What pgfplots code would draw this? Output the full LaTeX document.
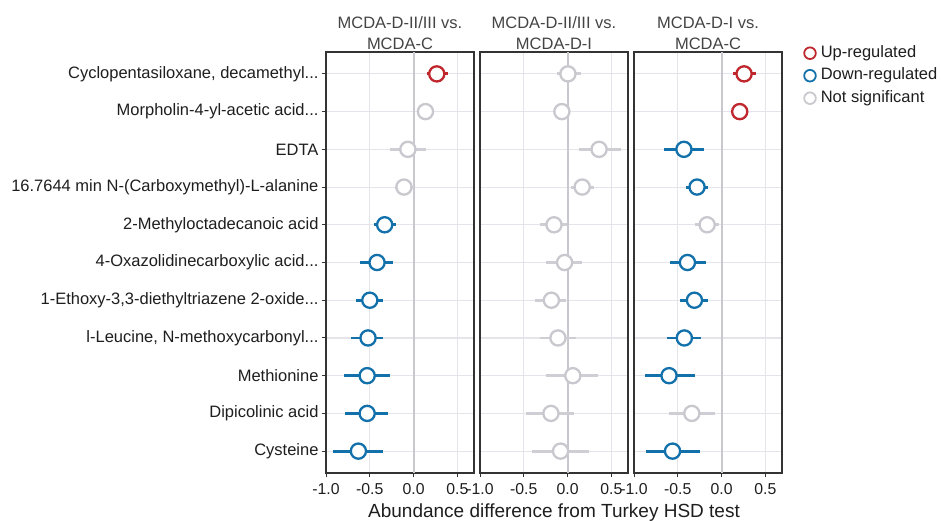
\documentclass[border=0pt]{standalone}
\usepackage{fontspec}
\setmainfont{Liberation Sans}
\usepackage{pgfplots}
\usepackage{pgfplotstable}
\pgfplotsset{compat=1.18}

\definecolor{upc}{RGB}{192,39,45}
\definecolor{downc}{RGB}{18,113,170}
\definecolor{nsc}{RGB}{200,200,206}
\definecolor{nsbar}{RGB}{206,206,212}
\definecolor{gridc}{RGB}{228,228,234}
\definecolor{zeroc}{RGB}{200,200,206}
\definecolor{axc}{RGB}{51,51,51}
\definecolor{tickc}{RGB}{30,30,30}
\definecolor{titc}{RGB}{68,68,68}

\newcommand\ticfont{\fontsize{16.5bp}{20.5bp}\selectfont}
\newcommand\xticfont{\fontsize{15.8bp}{19bp}\selectfont}
\newcommand\labfont{\fontsize{19bp}{22bp}\selectfont}
\newcommand\dd{.{}.{}.}

% Panel 1: MCDA-D-II/III vs MCDA-C   (row, estimate, lower, upper)
\pgfplotstableread{
row est lo hi
1 0.265 0.15 0.39
}\tabAu
\pgfplotstableread{
row est lo hi
2 0.136 0.12 0.15
3 -0.065 -0.27 0.14
4 -0.11 -0.216 0.004
}\tabAn
\pgfplotstableread{
row est lo hi
5 -0.33 -0.45 -0.20
6 -0.417 -0.61 -0.24
7 -0.50 -0.66 -0.35
8 -0.52 -0.71 -0.35
9 -0.53 -0.795 -0.27
10 -0.53 -0.78 -0.29
11 -0.63 -0.917 -0.35
}\tabAd

% Panel 2: MCDA-D-II/III vs MCDA-D-I
\pgfplotstableread{
row est lo hi
1 0.004 -0.12 0.15
2 -0.065 -0.08 -0.05
3 0.36 0.13 0.61
4 0.167 0.04 0.30
5 -0.155 -0.32 -0.01
6 -0.034 -0.25 0.17
7 -0.185 -0.375 -0.015
8 -0.11 -0.32 0.10
9 0.06 -0.25 0.35
10 -0.19 -0.48 0.07
11 -0.08 -0.405 0.25
}\tabBn

% Panel 3: MCDA-D-I vs MCDA-C
\pgfplotstableread{
row est lo hi
1 0.257 0.13 0.39
2 0.207 0.19 0.22
}\tabCu
\pgfplotstableread{
row est lo hi
5 -0.165 -0.30 -0.03
10 -0.34 -0.60 -0.07
}\tabCn
\pgfplotstableread{
row est lo hi
3 -0.43 -0.655 -0.20
4 -0.28 -0.41 -0.15
6 -0.39 -0.59 -0.18
7 -0.31 -0.48 -0.15
8 -0.425 -0.62 -0.23
9 -0.60 -0.88 -0.30
11 -0.56 -0.865 -0.25
}\tabCd

\pgfplotsset{
  series/.style 2 args={
    only marks, mark=*, mark size=7.6bp,
    mark options={fill=white, draw=#1, line width=2.3bp},
    forget plot,
    error bars/x dir=both, error bars/x explicit, error bars/error mark=none,
    error bars/error bar style={line width=2.9bp, draw=#2, solid}
  },
  panel/.style={
    scale only axis, width=148bp, height=421bp,
    xmin=-1.0, xmax=0.69, ymin=0.42, ymax=11.58, y dir=reverse,
    xtick={-1,-0.5,0,0.5}, ytick={1,2,3,4,5,6,7,8,9,10,11},
    xtick pos=bottom, ytick pos=left,
    xmajorgrids, ymajorgrids,
    major grid style={draw=gridc, line width=1.1bp},
    tick align=outside, major tick length=4bp,
    tick style={draw=axc, line width=1bp},
    axis line style={draw=axc, line width=1.2bp},
    xticklabel style={font=\xticfont, text=tickc, yshift=-3bp},
    yticklabel style={font=\ticfont, text=tickc},
    /pgf/number format/.cd, fixed, fixed zerofill, precision=1, assume math mode=true,
    /pgfplots/.cd,
    extra x ticks={0}, extra x tick labels={},
    extra x tick style={xmajorgrids=true, major grid style={draw=zeroc, line width=2bp}, major tick length=0pt},
    title style={align=center, font=\ticfont, text=titc, at={(0.5,1)}, anchor=south, yshift=-3.5bp, inner sep=0pt},
  },
  table/datatab/.style={x=est, y=row,
    x error plus expr=\thisrow{hi}-\thisrow{est},
    x error minus expr=\thisrow{est}-\thisrow{lo}},
}

\begin{document}
\begin{tikzpicture}
% Panel 1
\begin{axis}[panel, at={(326bp,469bp)}, anchor=north west,
  title={MCDA-D-II/III vs.\\MCDA-C},
  yticklabels={{Cyclopentasiloxane, decamethyl\dd},{Morpholin-4-yl-acetic acid\dd},{EDTA},{16.7644 min N-(Carboxymethyl)-L-alanine},{2-Methyloctadecanoic acid},{4-Oxazolidinecarboxylic acid\dd},{1-Ethoxy-3,3-diethyltriazene 2-oxide\dd},{l-Leucine, N-methoxycarbonyl\dd},{Methionine},{Dipicolinic acid},{Cysteine}}]
\addplot[series={nsc}{nsbar}] table[datatab] \tabAn;
\addplot[series={downc}{downc}] table[datatab] \tabAd;
\addplot[series={upc}{upc}] table[datatab] \tabAu;
\end{axis}
% Panel 2
\begin{axis}[panel, at={(480bp,469bp)}, anchor=north west,
  title={MCDA-D-II/III vs.\\MCDA-D-I},
  yticklabels={}, ytick style={draw=none},
  xlabel={Abundance difference from Turkey HSD test},
  xlabel style={font=\labfont, text=tickc, yshift=1.5bp}]
\addplot[series={nsc}{nsbar}] table[datatab] \tabBn;
\end{axis}
% Panel 3
\begin{axis}[panel, at={(634bp,469bp)}, anchor=north west,
  title={MCDA-D-I vs.\\MCDA-C},
  yticklabels={}, ytick style={draw=none},
  legend style={draw=none, fill=none, at={(1,1)}, anchor=north west,
    xshift=22bp, yshift=6.75bp, inner sep=0pt, row sep=7bp,
    font=\ticfont, text=tickc,
    nodes={inner sep=0pt, text height=12bp, text depth=3.5bp},
    /tikz/every odd column/.append style={column sep=5bp}},
  legend cell align=left,
  legend image code/.code={\draw[#1] plot coordinates {(0bp,0bp)};}]
\addplot[series={nsc}{nsbar}] table[datatab] \tabCn;
\addplot[series={downc}{downc}] table[datatab] \tabCd;
\addplot[series={upc}{upc}] table[datatab] \tabCu;
\addlegendimage{only marks, mark=o, mark size=5.8bp, mark options={line width=1.8bp}, draw=upc}
\addlegendentry{Up-regulated}
\addlegendimage{only marks, mark=o, mark size=5.8bp, mark options={line width=1.8bp}, draw=downc}
\addlegendentry{Down-regulated}
\addlegendimage{only marks, mark=o, mark size=5.8bp, mark options={line width=1.8bp}, draw=nsc}
\addlegendentry{Not significant}
\end{axis}
\pgfresetboundingbox
\path[use as bounding box] (0,0) rectangle (941bp,521bp);
\end{tikzpicture}
\end{document}
